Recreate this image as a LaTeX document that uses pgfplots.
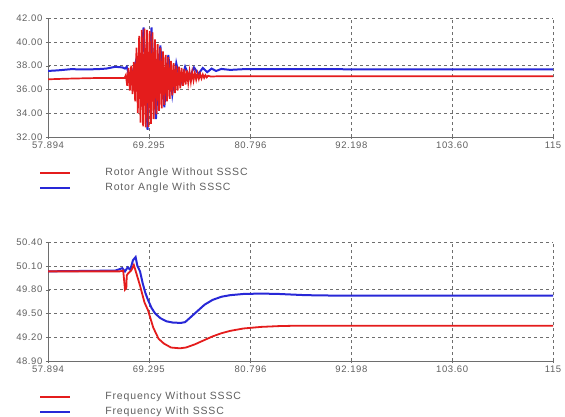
\documentclass[border=0pt]{standalone}
\usepackage{pgfplots}
\pgfplotsset{compat=1.18}
\usepackage{fontspec}
\setmainfont{Liberation Sans}
\newfontfamily\lgfont[LetterSpace=8]{Liberation Sans}
\newfontfamily\tkfont[LetterSpace=6]{Liberation Sans}
\definecolor{lred}{RGB}{228,28,28}
\definecolor{lblue}{RGB}{40,40,215}
\definecolor{txt}{RGB}{95,95,95}
\definecolor{grd}{RGB}{110,110,110}

% rotor angle, without SSSC
\pgfplotstableread{
t v
57.894 36.85
60.0 36.9
63.0 36.95
66.55 36.95
66.70 37.2
66.85 36.3
67.00 37.8
67.15 35.9
67.30 38.0
67.45 35.6
67.60 38.3
67.75 35.0
67.90 39.5
68.05 34.0
68.20 40.5
68.35 33.2
68.50 41.0
68.65 32.9
68.80 41.1
68.95 32.8
69.10 41.0
69.25 32.85
69.40 40.9
69.55 33.1
69.70 40.8
69.85 33.5
70.00 40.2
70.15 33.9
70.30 39.8
70.45 34.2
70.60 39.5
70.75 34.4
70.90 39.2
71.05 34.7
71.20 38.9
71.35 35.0
71.50 38.7
71.65 35.2
71.80 38.4
71.95 35.5
72.10 38.2
72.25 35.7
72.40 38.0
72.55 35.9
72.70 37.9
72.85 36.1
73.00 37.8
73.15 36.3
73.30 37.7
73.45 36.4
73.60 37.6
73.75 36.55
73.90 37.5
74.05 36.65
74.20 37.45
74.35 36.75
74.50 37.4
74.65 36.82
74.80 37.35
74.95 36.88
75.10 37.3
75.25 36.92
75.40 37.25
75.55 36.97
75.70 37.2
75.85 37.01
76.00 37.15
76.30 37.08
77.00 37.1
115.0 37.1
}\angred

% rotor angle, with SSSC
\pgfplotstableread{
t v
57.894 37.55
59.0 37.6
60.5 37.7
62.0 37.68
63.5 37.7
64.5 37.75
65.5 37.9
66.3 37.85
66.6 37.75
66.8 37.9
67.2 36.8
67.8 38.3
68.2 35.4
68.7 41.2
69.15 32.6
69.6 41.2
70.1 33.5
70.6 39.7
71.05 34.5
71.5 38.9
71.95 35.6
72.4 38.2
72.9 36.5
73.4 37.9
73.9 37.0
74.4 37.85
74.9 37.3
75.4 37.8
75.9 37.45
76.4 37.75
76.9 37.55
77.5 37.72
78.5 37.64
80.0 37.7
115.0 37.68
}\angblue

% frequency, without SSSC
\pgfplotstableread{
t v
57.894 50.03
66.0 50.03
66.4 50.04
66.6 49.80
66.75 49.82
66.8 49.98
67.0 50.01
67.3 50.04
67.6 50.11
67.9 50.00
68.3 49.85
68.8 49.64
69.2 49.54
69.8 49.32
70.4 49.18
71.0 49.12
71.8 49.07
72.8 49.06
73.5 49.07
74.5 49.11
75.5 49.16
76.5 49.21
77.5 49.25
78.5 49.28
80.0 49.31
82.0 49.33
84.0 49.34
86.0 49.345
115.0 49.345
}\frqred

% frequency, with SSSC
\pgfplotstableread{
t v
57.894 50.03
65.5 50.04
66.3 50.07
66.6 50.03
66.9 50.08
67.2 50.05
67.5 50.17
67.8 50.21
68.0 50.10
68.3 50.03
68.6 49.88
68.9 49.76
69.2 49.67
69.6 49.57
70.0 49.50
70.6 49.44
71.3 49.40
72.0 49.385
72.9 49.38
73.4 49.39
74.0 49.45
74.8 49.53
75.6 49.61
76.5 49.67
77.5 49.71
78.5 49.73
80.0 49.745
82.0 49.75
84.0 49.745
87.0 49.73
90.0 49.725
115.0 49.725
}\frqblue

\pgfplotsset{
  simstyle/.style={
    scale only axis,
    width=505pt, height=119pt,
    xmin=57.894, xmax=115,
    xtick={57.894,69.295,80.796,92.198,103.60,115},
    xticklabels={57.894,69.295,80.796,92.198,103.60,115},
    minor x tick num=1,
    axis x line=bottom, axis y line=left,
    axis line style={-, draw=grd, line width=0.8pt},
    tick style={draw=grd},
    grid=major,
    major grid style={dashed, draw=grd, line width=0.6pt},
    ticklabel style={font=\tkfont\fontsize{9.5}{10}\selectfont, text=txt},
    /pgf/number format/assume math mode=true,
    yticklabel style={/pgf/number format/.cd, fixed, fixed zerofill, precision=2},
    xticklabel style={yshift=1pt},
    legend style={draw=none, fill=none, at={(0,0)}, anchor=north west,
      xshift=-12pt, yshift=-27pt, font=\lgfont\fontsize{10.5}{12}\selectfont,
      text=txt, row sep=2pt, cells={anchor=west}},
    legend image code/.code={\draw[##1, line width=2.2pt] (0pt,0pt) -- (30pt,0pt);},
  }
}

\begin{document}
\begin{tikzpicture}
\useasboundingbox (-48pt,-279pt) rectangle (517pt,137pt);

\begin{axis}[simstyle, at={(0pt,0pt)}, anchor=south west,
  ymin=32, ymax=42, ytick={32,34,36,38,40,42}]
\addplot[lblue, line width=2pt, forget plot] table {\angblue};
\addplot[lred, line width=1.7pt] table {\angred};
\addlegendentry{\hspace{32pt}Rotor Angle Without SSSC}
\addlegendimage{lblue}
\addlegendentry{\hspace{32pt}Rotor Angle With SSSC}
\node[font=\tkfont\fontsize{9.5}{10}\selectfont, text=txt, anchor=north] at (axis cs:108.6,32) {[s]};
\node[font=\fontsize{4}{5}\selectfont, text=txt] at (axis cs:79.7,32) [yshift=-23pt] {t\ \ sec};
\end{axis}

\begin{axis}[simstyle, at={(0pt,-224pt)}, anchor=south west,
  ymin=48.9, ymax=50.4, ytick={48.9,49.2,49.5,49.8,50.1,50.4}]
\addplot[lblue, line width=2pt, forget plot] table {\frqblue};
\addplot[lred, line width=1.8pt] table {\frqred};
\addlegendentry{\hspace{32pt}Frequency Without SSSC}
\addlegendimage{lblue}
\addlegendentry{\hspace{32pt}Frequency With SSSC}
\node[font=\tkfont\fontsize{9.5}{10}\selectfont, text=txt, anchor=north] at (axis cs:108.6,48.9) {[s]};
\node[font=\fontsize{4}{5}\selectfont, text=txt] at (axis cs:79.7,48.9) [yshift=-23pt] {t\ \ sec};
\end{axis}
\end{tikzpicture}
\end{document}
